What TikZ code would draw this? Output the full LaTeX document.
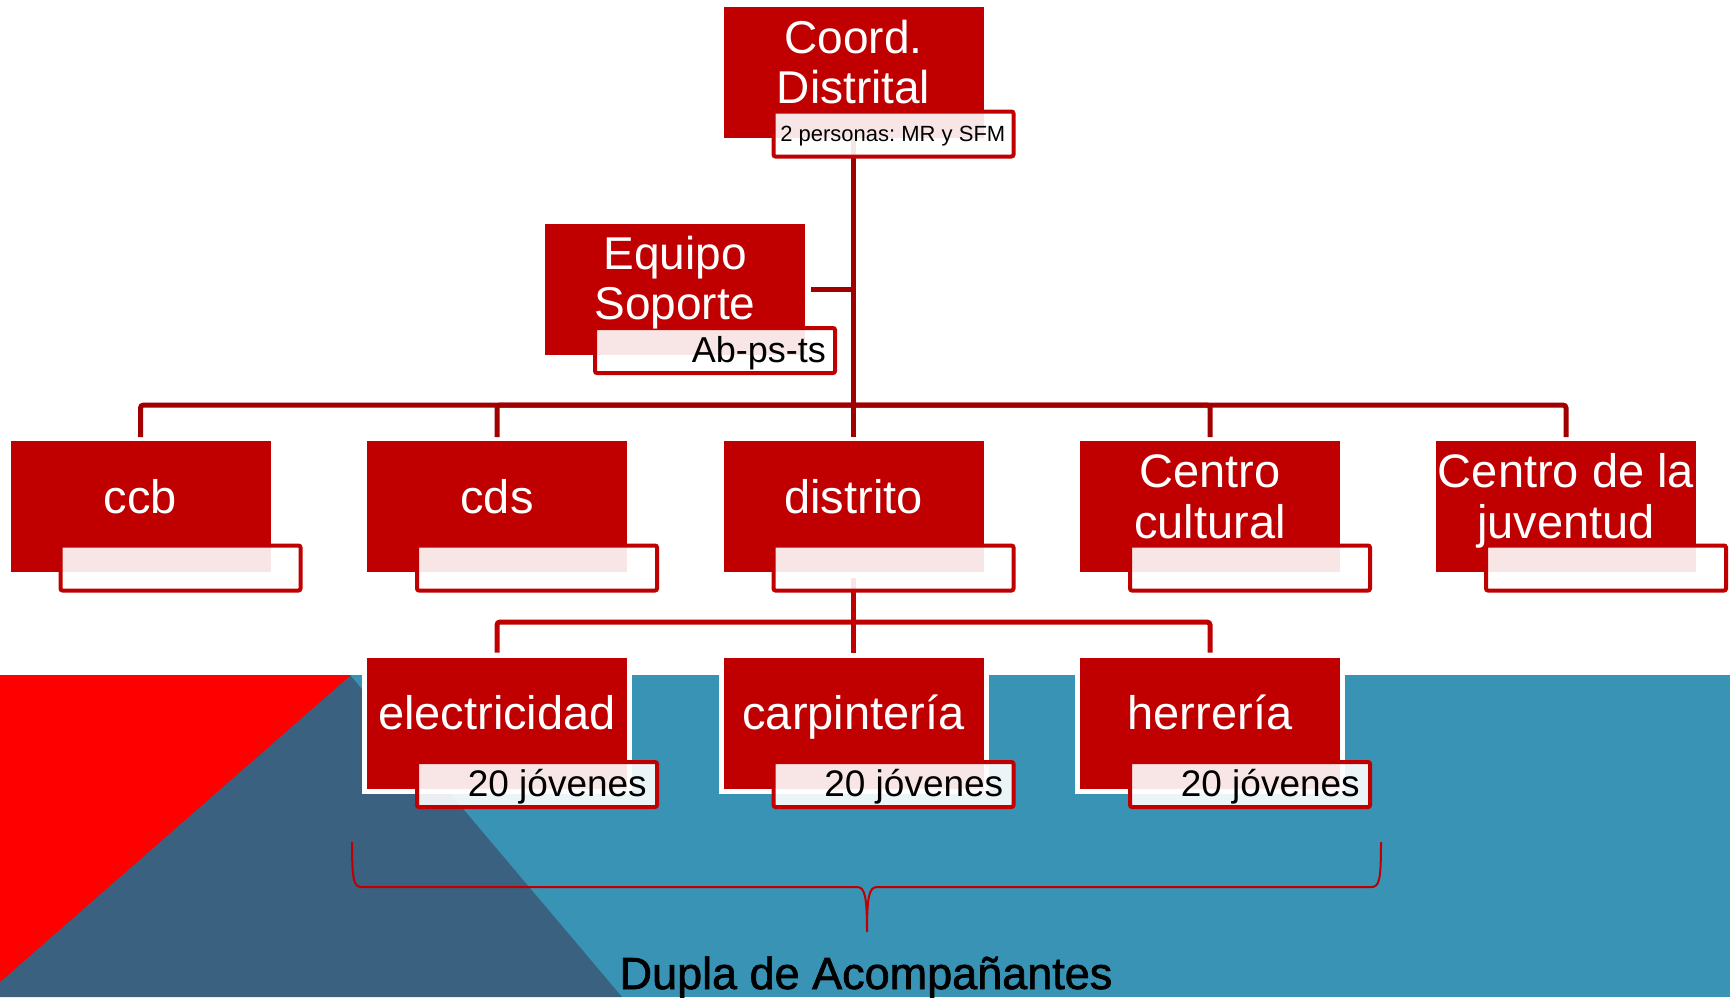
\documentclass[tikz,border=0pt]{standalone}
\usepackage{fontspec}
\setmainfont{Liberation Sans}
\newfontfamily\duplafont[FakeBold=1.5]{Liberation Sans}
\usetikzlibrary{calc}
\definecolor{boxred}{HTML}{C00000}
\definecolor{linedark}{HTML}{A00000}
\definecolor{bgblue}{HTML}{3893B5}
\definecolor{bgdark}{HTML}{3B6181}
\definecolor{bgred}{HTML}{FF0000}
\pgfdeclarelayer{bg}
\pgfdeclarelayer{lines}
\pgfsetlayers{bg,lines,main}
\newcommand\twolines[2]{\vtop{\halign{\hfil##\hfil\cr#1\cr#2\cr}}}
\frenchspacing
\begin{document}
\begin{tikzpicture}[x=1pt,y=-1pt,
  redbox/.style={rectangle, fill=boxred, minimum width=260pt, minimum height=131pt, inner sep=0pt, outer sep=0pt},
  edged/.style={preaction={draw=white, line width=10pt}},
  subbox/.style={rectangle, draw=boxred, line width=4pt, fill=white, fill opacity=0.9, rounded corners=2pt, minimum width=240pt, minimum height=45pt, inner sep=0pt, outer sep=0pt},
  mainlbl/.style={anchor=base, text=white, inner sep=0pt, font=\fontsize{47}{51}\selectfont},
  sublbl/.style={anchor=base east, text=black, inner sep=0pt, font=\fontsize{37}{40}\selectfont},
  l1/.style={draw=linedark, line width=5pt, rounded corners=3pt},
  l2/.style={draw=boxred, line width=5pt, rounded corners=3pt},
  bracestyle/.style={draw=boxred, line width=2pt}
]
\useasboundingbox (0,0) rectangle (1730,997);

% main boxes
\node[redbox] (coord) at (853.5,72.5) {};
\node[redbox] (equipo) at (675,289) {};
\node[redbox] (ccb) at (140.5,506.5) {};
\node[redbox] (cds) at (497,506.5) {};
\node[redbox] (distrito) at (853.5,506.5) {};
\node[redbox] (ccult) at (1210,506.5) {};
\node[redbox] (cjuv) at (1566,506.5) {};
\node[redbox,edged] (elec) at (497,723) {};
\node[redbox,edged] (carp) at (853.5,723) {};
\node[redbox,edged] (herr) at (1210,723) {};

% sub boxes
\node[subbox] (coordT) at ($(coord.center)+(40,61.5)$) {};
\node[subbox] (equipoT) at ($(equipo.center)+(40,61.5)$) {};
\node[subbox] (ccbT) at ($(ccb.center)+(40,61.5)$) {};
\node[subbox] (cdsT) at ($(cds.center)+(40,61.5)$) {};
\node[subbox] (distritoT) at ($(distrito.center)+(40,61.5)$) {};
\node[subbox] (ccultT) at ($(ccult.center)+(40,61.5)$) {};
\node[subbox] (cjuvT) at ($(cjuv.center)+(40,61.5)$) {};
\node[subbox] (elecT) at ($(elec.center)+(40,61.5)$) {};
\node[subbox] (carpT) at ($(carp.center)+(40,61.5)$) {};
\node[subbox] (herrT) at ($(herr.center)+(40,61.5)$) {};

% labels
\node[mainlbl, font=\fontsize{46}{50}\selectfont] (coordL) at ($(coord.center)+(0,-19.5)$) {\twolines{Coord.}{Distrital}};
\node[sublbl, font=\fontsize{22}{26}\selectfont] (coordS) at ($(coordT.center)+(112,7)$) {2 personas: MR y SFM};
\node[mainlbl, font=\fontsize{46}{50}\selectfont] (equipoL) at ($(equipo.center)+(0,-19.5)$) {\twolines{Equipo}{Soporte}};
\node[sublbl, font=\fontsize{36}{40}\selectfont] (equipoS) at ($(equipoT.center)+(111,11.5)$) {Ab-ps-ts};
\node[mainlbl] (ccbL) at ($(ccb.center)+(0,6.5)$) {ccb};
\node[mainlbl] (cdsL) at ($(cds.center)+(0,6.5)$) {cds};
\node[mainlbl] (distritoL) at ($(distrito.center)+(0,6.5)$) {distrito};
\node[mainlbl] (ccultL) at ($(ccult.center)+(0,-19.5)$) {\twolines{Centro}{cultural}};
\node[mainlbl] (cjuvL) at ($(cjuv.center)+(0,-19.5)$) {\twolines{Centro de la}{juventud}};
\node[mainlbl] (elecL) at ($(elec.center)+(0,6.5)$) {electricidad};
\node[mainlbl] (carpL) at ($(carp.center)+(0,6.5)$) {carpintería};
\node[mainlbl] (herrL) at ($(herr.center)+(0,6.5)$) {herrería};
\node[sublbl] (elecS) at ($(elecT.center)+(110,11.5)$) {20 jóvenes};
\node[sublbl] (carpS) at ($(carpT.center)+(110,11.5)$) {20 jóvenes};
\node[sublbl] (herrS) at ($(herrT.center)+(110,11.5)$) {20 jóvenes};

\node[anchor=base, inner sep=0pt, text=black, font=\duplafont\fontsize{45}{50}\selectfont] (dupla) at (866,989) {Dupla de Acompañantes};

\coordinate (hub1) at (853.5,405);
\coordinate (hub2) at (853.5,622);
\coordinate (braceL) at (352,842);
\coordinate (braceTip) at (867,932);
\coordinate (braceR) at (1381,842);

\begin{pgfonlayer}{bg}
  \fill[white] (0,0) rectangle (1730,997);
  \fill[bgblue] (0,675) rectangle (1730,997);
  \fill[bgdark] (350,675) -- (622,997) -- (-20,997) -- cycle;
  \fill[bgred] (0,675) -- (351,675) -- (0,982) -- cycle;
  \draw[bracestyle] (braceL) .. controls (352,882) and (354,887) .. (362,887) -- (857,887)
     .. controls (865,887) and (867,897) .. (braceTip)
     .. controls (867,897) and (869,887) .. (877,887) -- (1371,887)
     .. controls (1379,887) and (1381,882) .. (braceR);
\end{pgfonlayer}

\begin{pgfonlayer}{lines}
  \draw[l1] (coord.south) -- ($(distrito.north)+(0,-4)$);
  \draw[l1] ($(equipo.east)+(6,0)$) -- (equipo.east -| coord.south);
  \draw[l1] ($(ccb.north)+(0,-4)$) |- (hub1);
  \draw[l1] ($(cds.north)+(0,-4)$) |- (hub1);
  \draw[l1] ($(ccult.north)+(0,-4)$) |- (hub1);
  \draw[l1] ($(cjuv.north)+(0,-4)$) |- (hub1);
  \draw[l2] ($(distrito.south)+(0,6)$) -- ($(carp.north)+(0,-5)$);
  \draw[l2] ($(elec.north)+(0,-5)$) |- (hub2);
  \draw[l2] ($(herr.north)+(0,-5)$) |- (hub2);
\end{pgfonlayer}
\end{tikzpicture}
\end{document}
